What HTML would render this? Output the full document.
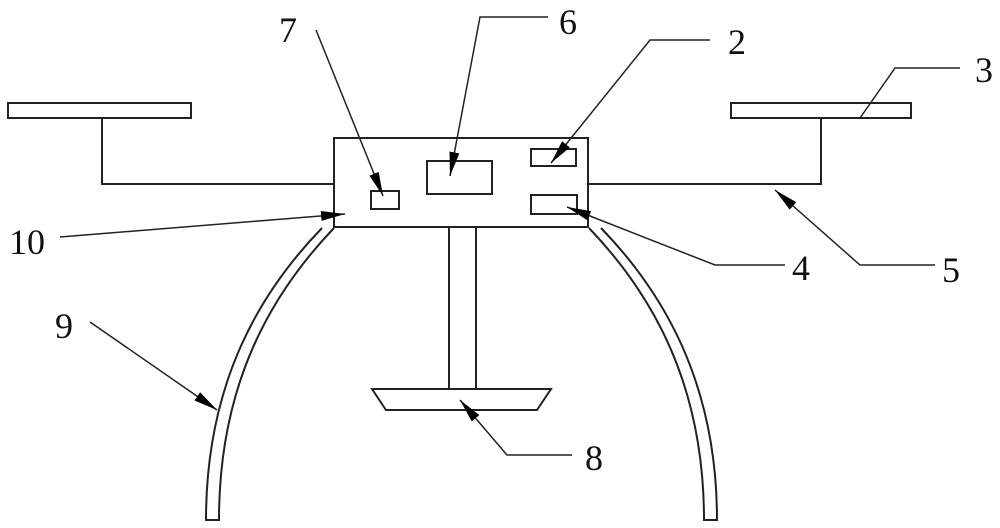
<!DOCTYPE html>
<html><head><style>html,body{margin:0;padding:0;background:#fff;}svg{display:block}</style></head>
<body>
<svg width="1000" height="528" viewBox="0 0 1000 528" xmlns="http://www.w3.org/2000/svg">
<defs>
<marker id="a" viewBox="0 0 24 10" refX="24" refY="5" markerWidth="24" markerHeight="10" markerUnits="userSpaceOnUse" orient="auto" preserveAspectRatio="none">
<path d="M0,0 L24,5 L0,10 Z" fill="#000"/></marker>
</defs>
<g fill="none" stroke="#222" stroke-width="2">
<rect x="8" y="103" width="183" height="15"/>
<rect x="731" y="103" width="180" height="15"/>
<polyline points="102,118 102,184 334,184"/>
<polyline points="821,118 821,184 588,184"/>
<rect x="334" y="138" width="254" height="89"/>
<rect x="371" y="191" width="28" height="18"/>
<rect x="427" y="161" width="65" height="33"/>
<rect x="531" y="149" width="45" height="17"/>
<rect x="531" y="195" width="46" height="19"/>
<line x1="449" y1="227" x2="449" y2="389"/>
<line x1="476" y1="227" x2="476" y2="389"/>
<polygon points="372,389 551,389 537,410 386,410"/>
<path d="M322,228 C262,290 206,380 206,520 L219,520 C219,385 270,295 334,228"/>
<path d="M601,228 C661,290 717,380 717,520 L704,520 C704,385 653,295 589,228"/>
</g>
<g fill="none" stroke="#222" stroke-width="1.5">
<polyline points="316,30 383,196" marker-end="url(#a)"/>
<polyline points="548,17 480,17 450,176" marker-end="url(#a)"/>
<polyline points="710,40 650,40 551,163" marker-end="url(#a)"/>
<polyline points="960,68 895,68 860,118"/>
<polyline points="935,265 860,265 775,190" marker-end="url(#a)"/>
<polyline points="785,265 715,265 567,207" marker-end="url(#a)"/>
<polyline points="60,237 345,214" marker-end="url(#a)"/>
<polyline points="90,322 217,410" marker-end="url(#a)"/>
<polyline points="572,455 507,455 460,400" marker-end="url(#a)"/>
</g>
<g font-family="Liberation Serif, serif" font-size="36" fill="#111" text-anchor="middle">
<text x="288" y="42">7</text>
<text x="568" y="34">6</text>
<text x="737" y="54">2</text>
<text x="984" y="82">3</text>
<text x="951" y="282">5</text>
<text x="801" y="280">4</text>
<text x="27" y="254">10</text>
<text x="64" y="338">9</text>
<text x="594" y="470">8</text>
</g>
</svg>
</body></html>
